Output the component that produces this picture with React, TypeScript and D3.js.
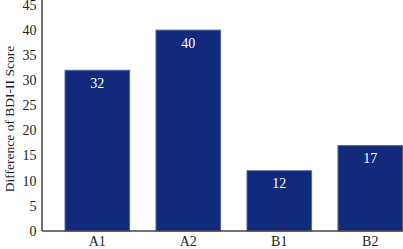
import React from "react";
import * as d3 from "d3";

const categories = ["A1", "A2", "B1", "B2"];
const values = [32, 40, 12, 17];
const yTicks = [0, 5, 10, 15, 20, 25, 30, 35, 40, 45];
const yLabel = "Difference of BDI-II Score";

const W = 403;
const H = 249;
const FONT = "'Liberation Serif', 'DejaVu Serif', serif";

export default function App() {
  const x0 = 42;
  const base = 231;
  const x = d3
    .scaleBand<string>()
    .domain(categories)
    .range([x0, 425.6])
    .paddingInner(0.29)
    .paddingOuter(0.253);
  const y = d3.scaleLinear().domain([0, 45]).range([base, 5]);

  return (
    <svg
      width={W}
      height={H}
      style={{ position: "absolute", left: 0, top: 0, background: "#fff" }}
    >
      {categories.map((c, i) => (
        <g key={c}>
          <rect
            x={x(c)!}
            y={y(values[i])}
            width={x.bandwidth()}
            height={base - y(values[i])}
            fill="#122a7c"
            stroke="#4f64a8"
            strokeWidth={1}
          />
          <text
            x={x(c)! + x.bandwidth() / 2}
            y={y(values[i]) + 17.5}
            fill="#fff"
            fontFamily={FONT}
            fontSize={14}
            textAnchor="middle"
          >
            {values[i]}
          </text>
          <text
            x={x(c)! + x.bandwidth() / 2}
            y={246}
            fill="#222"
            fontFamily={FONT}
            fontSize={14}
            textAnchor="middle"
          >
            {c}
          </text>
        </g>
      ))}
      <line x1={x0} x2={W} y1={base} y2={base} stroke="#444" strokeWidth={1.5} />
      <line x1={x0} x2={x0} y1={0} y2={base} stroke="#444" strokeWidth={1.5} />
      {yTicks.map((t) => (
        <text
          key={t}
          x={36.5}
          y={y(t) + 4.8}
          fill="#222"
          fontFamily={FONT}
          fontSize={14}
          textAnchor="end"
        >
          {t}
        </text>
      ))}
      <text
        transform={`translate(14,${119}) rotate(-90)`}
        fill="#222"
        fontFamily={FONT}
        fontSize={13.5}
        textAnchor="middle"
      >
        {yLabel}
      </text>
    </svg>
  );
}
